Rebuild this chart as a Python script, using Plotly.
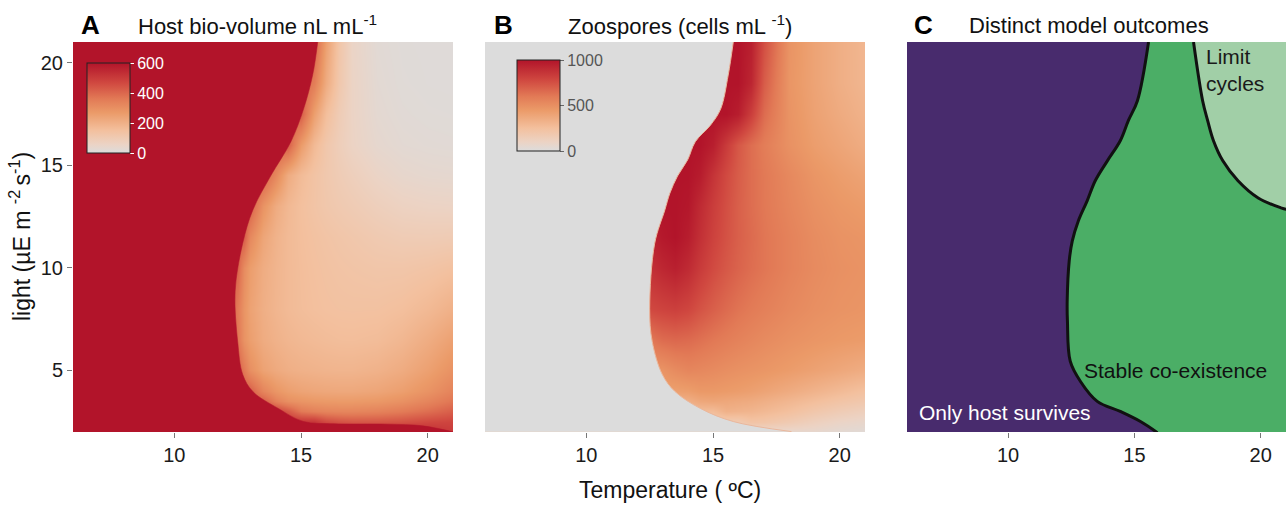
import plotly.graph_objects as go

# ---------------- data ----------------
temperature = [6, 11, 12, 12.25, 12.5, 12.75, 13, 13.5, 14, 14.5, 15, 15.5, 16, 16.5, 17, 18, 19, 20, 21]
light = [2, 2.5, 3, 3.5, 4, 5, 6.5, 8, 10, 11.5, 13, 14.5, 16, 17.5, 19, 21]

# Host bio-volume (nL/mL) on the temperature x light grid (values left of the
# saturated-red edge are hidden under the >600 region drawn from host_edge_*)
host_biovolume = [
    [700, 700, 700, 700, 700, 700, 700, 700, 700, 700, 700, 700, 700, 680, 660, 640, 600, 540, 500],  # 2
    [520, 520, 520, 520, 520, 520, 520, 520, 520, 520, 520, 520, 470, 450, 440, 440, 450, 470, 480],  # 2.5
    [480, 480, 480, 480, 480, 480, 480, 480, 480, 430, 360, 340, 330, 325, 325, 335, 355, 385, 420],  # 3
    [420, 420, 420, 420, 420, 420, 420, 420, 340, 300, 285, 275, 270, 268, 268, 275, 295, 330, 370],  # 3.5
    [420, 420, 420, 420, 420, 420, 420, 330, 280, 255, 240, 232, 228, 226, 226, 235, 255, 290, 335],  # 4
    [420, 420, 420, 420, 420, 360, 300, 245, 220, 205, 197, 192, 188, 186, 186, 195, 215, 250, 295],  # 5
    [420, 420, 420, 420, 360, 290, 255, 215, 195, 182, 173, 167, 162, 158, 157, 162, 180, 212, 250],  # 6.5
    [420, 420, 420, 420, 350, 285, 245, 205, 183, 168, 158, 151, 146, 143, 142, 143, 152, 172, 200],  # 8
    [420, 420, 420, 420, 400, 310, 260, 212, 186, 168, 156, 147, 140, 134, 130, 124, 124, 132, 145],  # 10
    [420, 420, 420, 420, 420, 420, 320, 235, 192, 168, 153, 142, 133, 125, 118, 105, 96, 95, 98],  # 11.5
    [420, 420, 420, 420, 420, 420, 420, 290, 215, 175, 150, 132, 118, 107, 98, 80, 66, 60, 58],  # 13
    [420, 420, 420, 420, 420, 420, 420, 420, 320, 215, 165, 135, 113, 95, 80, 55, 40, 34, 32],  # 14.5
    [420, 420, 420, 420, 420, 420, 420, 420, 420, 420, 265, 170, 118, 85, 60, 35, 24, 20, 18],  # 16
    [420, 420, 420, 420, 420, 420, 420, 420, 420, 420, 420, 255, 155, 95, 58, 28, 18, 14, 13],  # 17.5
    [420, 420, 420, 420, 420, 420, 420, 420, 420, 420, 420, 350, 215, 115, 58, 24, 14, 11, 10],  # 19
    [420, 420, 420, 420, 420, 420, 420, 420, 420, 420, 420, 420, 250, 125, 55, 20, 12, 10, 10],  # 21
]

# Zoospores (cells/mL); values left of the zero edge are hidden under the
# zero region drawn from zoo_edge_*
zoospores = [
    [60, 60, 60, 60, 60, 60, 60, 60, 60, 60, 60, 60, 60, 60, 60, 60, 60, 40, 30],  # 2
    [170, 170, 170, 170, 170, 170, 170, 170, 170, 170, 170, 170, 170, 220, 210, 170, 125, 90, 70],  # 2.5
    [270, 270, 270, 270, 270, 270, 270, 270, 270, 270, 270, 330, 320, 310, 290, 250, 200, 160, 130],  # 3
    [330, 330, 330, 330, 330, 330, 330, 330, 340, 380, 390, 380, 370, 360, 340, 300, 260, 220, 190],  # 3.5
    [420, 420, 420, 420, 420, 420, 420, 420, 430, 455, 455, 445, 435, 420, 400, 360, 320, 280, 240],  # 4
    [480, 480, 480, 480, 480, 480, 480, 520, 545, 535, 522, 505, 492, 480, 468, 440, 410, 380, 350],  # 5
    [600, 600, 600, 600, 600, 630, 650, 665, 655, 632, 605, 582, 562, 542, 522, 492, 470, 452, 440],  # 6.5
    [780, 780, 780, 780, 780, 790, 800, 815, 790, 740, 695, 655, 622, 595, 572, 532, 502, 482, 472],  # 8
    [880, 880, 880, 880, 880, 900, 920, 950, 905, 835, 772, 722, 682, 645, 615, 562, 522, 495, 482],  # 10
    [960, 960, 960, 960, 960, 960, 980, 1000, 960, 880, 805, 745, 695, 655, 615, 562, 515, 485, 472],  # 11.5
    [1000, 1000, 1000, 1000, 1000, 1000, 1000, 1000, 985, 905, 825, 755, 695, 645, 605, 545, 495, 462, 442],  # 13
    [1000, 1000, 1000, 1000, 1000, 1000, 1000, 1000, 1000, 965, 865, 775, 705, 645, 602, 532, 472, 432, 402],  # 14.5
    [1000, 1000, 1000, 1000, 1000, 1000, 1000, 1000, 1000, 1000, 955, 835, 725, 645, 585, 492, 432, 392, 352],  # 16
    [1000, 1000, 1000, 1000, 1000, 1000, 1000, 1000, 1000, 1000, 1000, 1000, 960, 820, 650, 482, 412, 362, 322],  # 17.5
    [1000, 1000, 1000, 1000, 1000, 1000, 1000, 1000, 1000, 1000, 1000, 1000, 1000, 925, 705, 472, 402, 342, 302],  # 19
    [1000, 1000, 1000, 1000, 1000, 1000, 1000, 1000, 1000, 1000, 1000, 1000, 1000, 950, 755, 482, 402, 342, 300],  # 21
]

# Panel A: edge of the saturated (>600) host region (temperature, light)
host_edge_T = [15.66, 15.46, 15.1, 14.6, 13.8, 13.1, 12.7, 12.4, 12.5, 12.7, 13.1, 14.1, 15.1, 16.3, 18.4, 19.8, 21.2]
host_edge_L = [21.0, 19.39, 17.73, 16.14, 14.47, 12.82, 11.2, 8.86, 6.41, 4.8, 3.97, 3.15, 2.51, 2.4, 2.38, 2.3, 1.95]

# Panel B: edge of the zero-zoospore region
zoo_edge_T = [15.8, 15.6, 15.3, 14.9, 14.3, 14.0, 13.6, 13.3, 13.1, 12.7, 12.5, 12.6, 13.0, 13.5, 14.5, 15.8, 18.1]
zoo_edge_L = [21.0, 19.39, 17.73, 16.95, 16.14, 15.26, 14.47, 13.64, 12.82, 11.2, 8.03, 6.41, 4.8, 3.97, 3.15, 2.51, 2.02]

# Panel C outcome boundaries (temperature, light)
coexist_T = [15.56, 15.12, 14.76, 14.44, 13.93, 13.45, 13.13, 12.78, 12.54, 12.42, 12.34, 12.35, 12.46, 12.86, 13.53, 14.44, 15.24, 15.91]
coexist_L = [21.0, 18.14, 17.17, 16.19, 15.21, 14.24, 13.26, 12.28, 11.30, 10.33, 8.37, 7.40, 5.45, 4.47, 3.49, 3.0, 2.51, 1.97]
limit_T = [17.34, 17.7, 17.9, 18.13, 18.5, 19.1, 19.9, 20.8, 21.0]
limit_L = [21.0, 18.14, 17.17, 16.19, 15.21, 14.24, 13.40, 12.92, 12.85]

x_ticks = [10, 15, 20]
y_ticks = [5, 10, 15, 20]
host_ticks = [0, 200, 400, 600]
zoo_ticks = [0, 500, 1000]

# ---------------- styling ----------------
W, H = 1286, 505
FONT = "Liberation Sans, Arial, Helvetica, sans-serif"
LOW, HIGH = '#dcdcdc', '#b2142a'
cs = [[0.0, LOW], [0.1, '#ecd3c4'], [0.25, '#f3c09e'], [0.45, '#eb9a68'],
      [0.6, '#e27a56'], [0.78, '#d04840'], [1.0, HIGH]]
PURPLE, GREEN, LGREEN = '#482b6d', '#4bae66', '#a1cfa7'


def px(x):
    return x / W


def py(y):
    return 1 - y / H


fig = go.Figure()

fig.add_trace(go.Heatmap(
    x=temperature, y=light, z=host_biovolume, zmin=0, zmax=600, colorscale=cs,
    zsmooth='best', xaxis='x', yaxis='y', hoverinfo='skip',
    colorbar=dict(x=px(87), xanchor='left', y=py(63), yanchor='top',
                  lenmode='pixels', len=90, thicknessmode='pixels', thickness=43,
                  xpad=0, ypad=0, outlinewidth=1, outlinecolor='#222',
                  tickvals=host_ticks, ticks='outside', ticklen=4, tickcolor='#ffffff',
                  tickfont=dict(family=FONT, size=16, color='#ffffff'))))
fig.add_trace(go.Scatter(
    x=host_edge_T, y=host_edge_L, mode='lines', fill='tozerox', fillcolor=HIGH,
    line=dict(color=HIGH, width=0.5, shape='spline', smoothing=1),
    xaxis='x', yaxis='y', hoverinfo='skip', showlegend=False))

fig.add_trace(go.Heatmap(
    x=temperature, y=light, z=zoospores, zmin=0, zmax=1000, colorscale=cs,
    zsmooth='best', xaxis='x2', yaxis='y2', hoverinfo='skip',
    colorbar=dict(x=px(517), xanchor='left', y=py(60), yanchor='top',
                  lenmode='pixels', len=91, thicknessmode='pixels', thickness=43,
                  xpad=0, ypad=0, outlinewidth=1, outlinecolor='#222',
                  tickvals=zoo_ticks, ticks='outside', ticklen=4, tickcolor='#666',
                  tickfont=dict(family=FONT, size=16, color='#555'))))
fig.add_trace(go.Scatter(
    x=zoo_edge_T, y=zoo_edge_L, mode='lines', fill='tozerox', fillcolor=LOW,
    line=dict(color='#eab79c', width=1, shape='spline', smoothing=1),
    xaxis='x2', yaxis='y2', hoverinfo='skip', showlegend=False))

# Panel C: only host survives (left of boundary)
fig.add_trace(go.Scatter(
    x=coexist_T, y=coexist_L, mode='lines', fill='tozerox', fillcolor=PURPLE,
    line=dict(color='#111', width=3, shape='spline', smoothing=1),
    xaxis='x3', yaxis='y3', hoverinfo='skip', showlegend=False))

# Panel C: limit cycles (upper right; closed outside the visible frame)
fig.add_trace(go.Scatter(
    x=limit_T + [22.5, 22.5, 17.3], y=limit_L + [12.7, 23, 23], mode='lines', fill='toself',
    fillcolor=LGREEN, line=dict(color='#111', width=3, shape='spline', smoothing=1),
    xaxis='x3', yaxis='y3', hoverinfo='skip', showlegend=False))

dA = [px(73), px(453)]
dB = [px(485), px(865)]
dC = [px(907), 1.0]
dY = [py(432), py(42)]

xcommon = dict(range=[6, 21], tickvals=x_ticks, ticks='outside', ticklen=5, tickcolor='#777',
               tickfont=dict(family=FONT, size=20, color='#1a1a1a'), showgrid=False,
               zeroline=False, showline=False)
ycommon = dict(range=[2, 21], showgrid=False, zeroline=False, showline=False)

fig.update_layout(
    width=W, height=H, margin=dict(l=0, r=0, t=0, b=0),
    paper_bgcolor='white', plot_bgcolor='white', showlegend=False,
    xaxis=dict(domain=dA, anchor='y', **xcommon),
    xaxis2=dict(domain=dB, anchor='y2', **xcommon),
    xaxis3=dict(domain=dC, anchor='y3', **xcommon),
    yaxis=dict(domain=dY, anchor='x', tickvals=y_ticks, ticks='outside', ticklen=5,
               tickcolor='#777', tickfont=dict(family=FONT, size=20, color='#1a1a1a'), **ycommon),
    yaxis2=dict(domain=dY, anchor='x2', showticklabels=False, ticks='', **ycommon),
    yaxis3=dict(domain=dY, anchor='x3', showticklabels=False, ticks='', **ycommon),
    shapes=[dict(type='rect', xref='x3 domain', yref='y3 domain', x0=0, x1=1, y0=0, y1=1,
                 fillcolor=GREEN, line=dict(width=0), layer='below')],
)

ann = []


def text(x, y, t, size=22, color='#111', bold=False, xanchor='left', angle=0, align='left'):
    ann.append(dict(x=px(x), y=py(y), xref='paper', yref='paper', text=t, showarrow=False,
                    xanchor=xanchor, yanchor='middle', textangle=angle, align=align, borderpad=0,
                    font=dict(family=FONT, size=size, color=color, weight='bold' if bold else 'normal')))


text(80, 25, 'A', size=26, color='#000', bold=True)
text(137, 25, 'Host bio-volume nL mL<sup>-1</sup>')
text(493, 25, 'B', size=26, color='#000', bold=True)
text(567, 25, 'Zoospores (cells mL <sup>-1</sup>)')
text(913, 25, 'C', size=26, color='#000', bold=True)
text(968, 25, 'Distinct model outcomes')
text(1205, 70, 'Limit<br>cycles', size=21, color='#1a1a1a')
text(1083, 370, 'Stable co-existence', size=21, color='#111')
text(918, 412, 'Only host survives', size=21, color='#ffffff')
text(20, 237, 'light (µE m <sup>-2 </sup>s<sup>-1</sup>)', size=23, xanchor='center', angle=-90)
text(670, 490, 'Temperature ( ºC)', size=23, xanchor='center')
fig.update_layout(annotations=ann)

fig.write_html("out.html")
